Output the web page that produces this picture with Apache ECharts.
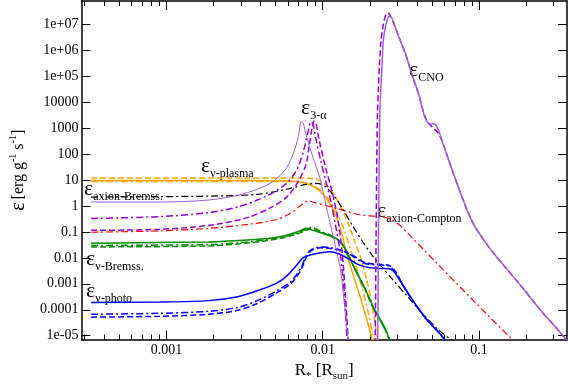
<!DOCTYPE html>
<html>
<head>
<meta charset="utf-8">
<title>energy generation rates</title>
<script src="https://cdn.jsdelivr.net/npm/echarts@6/dist/echarts.min.js"></script>
<style>
  html, body { margin: 0; padding: 0; background: #fff; }
  #main { width: 568px; height: 387px; }
</style>
</head>
<body>
<div id="main"></div>
<script>
// [R_* in R_sun, epsilon in erg/g/s]
var plasmaSolid = [[3.3e-4, 9.5], [3.81e-3, 9.5], [5.87e-3, 9.2], [6.78e-3, 8.8], [7.83e-3, 7.4], [8.66e-3, 5.7], [9.72e-3, 3.4], [0.01075, 1.7], [0.01205, 0.46], [0.01315, 0.097], [0.01413, 0.017], [0.0154, 0.003], [0.01703, 4.5e-4], [0.01857, 8e-5], [0.02024, 1.2e-5], [0.02144, 2.5e-6]];
var plasmaDashed = [[3.3e-4, 12], [6.78e-3, 12], [8.41e-3, 11.6], [9.31e-3, 10.4], [0.01075, 5.7], [0.01241, 1.7], [0.01433, 0.27], [0.01607, 0.041], [0.01754, 0.0094], [0.0191, 1.4e-3], [0.02054, 1.9e-4], [0.02175, 2.2e-5], [0.02304, 2.5e-6]];
var plasmaDashDot = [[3.3e-4, 8.8], [6.31e-3, 8.8], [7.61e-3, 8.0], [8.66e-3, 6.2], [0.01, 3.4], [0.01155, 1.1], [0.01334, 0.19], [0.01496, 0.024], [0.01655, 0.0036], [0.01804, 5.4e-4], [0.01968, 6.7e-5], [0.02113, 7e-6], [0.02208, 2.5e-6]];

var axionBremss = [[3.3e-4, 2.2], [1.86e-3, 2.4], [3.81e-3, 2.8], [5.87e-3, 4.4], [7.83e-3, 6.8], [9.04e-3, 7.4], [0.01015, 6.2], [0.01172, 2.6], [0.01352, 0.71], [0.01563, 0.16], [0.01804, 0.041], [0.02084, 0.012], [0.02371, 0.0047], [0.02738, 0.0017], [0.03447, 3.5e-4], [0.044, 6.7e-5], [0.0562, 1.5e-5], [0.075, 4.2e-6]];
var axionCompton = [[3.3e-4, 0.097], [9.04e-4, 0.11], [1.86e-3, 0.137], [3.3e-3, 0.194], [5.08e-3, 0.3], [6.31e-3, 0.55], [7.29e-3, 1.1], [8.06e-3, 1.55], [9.04e-3, 1.3], [0.01075, 1.0], [0.01393, 0.65], [0.01727, 0.46], [0.02208, 0.39], [0.02661, 0.33], [0.03073, 0.194], [0.03447, 0.097], [0.0562, 0.0047], [0.0904, 2.5e-4], [0.1455, 1.4e-5], [0.1727, 5e-6]];

var alphaSolid = [[3.3e-4, 1.42], [9.04e-4, 1.42], [1.86e-3, 1.69], [2.86e-3, 2.6], [3.81e-3, 4.4], [4.6e-3, 7.4], [5.23e-3, 13.5], [5.87e-3, 29.5], [6.49e-3, 108], [6.98e-3, 471], [7.29e-3, 1800], [7.5e-3, 1500], [7.83e-3, 560], [8.41e-3, 129], [9.04e-3, 35], [9.58e-3, 12.4], [0.01015, 2.6], [0.0109, 0.39], [0.01205, 0.029], [0.01296, 0.0039], [0.01372, 1.9e-4], [0.01455, 5.9e-6]];
var alphaDashDot = [[3.3e-4, 0.33], [9.04e-4, 0.39], [1.86e-3, 0.55], [2.86e-3, 0.92], [3.81e-3, 1.69], [4.73e-3, 3.1], [5.87e-3, 7.4], [6.59e-3, 17.5], [7.08e-3, 42], [7.61e-3, 167], [8.06e-3, 727], [8.41e-3, 1730], [8.66e-3, 1455], [9.04e-3, 396], [9.72e-3, 54], [0.01044, 9.5], [0.01122, 1.69], [0.01205, 0.194], [0.01296, 0.0144], [0.01372, 4.5e-4], [0.01433, 5.9e-6]];
var alphaDashed = [[3.3e-4, 0.115], [9.04e-4, 0.126], [1.86e-3, 0.178], [3.3e-3, 0.356], [4.73e-3, 0.92], [5.87e-3, 2.19], [6.98e-3, 8.8], [7.83e-3, 42], [8.18e-3, 198], [8.53e-3, 942], [8.79e-3, 1880], [9.04e-3, 1585], [9.44e-3, 396], [0.01044, 29.5], [0.01155, 3.1], [0.01259, 0.23], [0.01334, 0.0144], [0.01393, 4.5e-4], [0.01455, 5.9e-6]];

var cnoSolid = [[0.02239, 2.1e-6], [0.02255, 8e-5], [0.02271, 0.034], [0.02287, 6.2], [0.02304, 257], [0.0232, 4100], [0.02355, 3.6e4], [0.02395, 2.6e5], [0.0244, 2.3e6], [0.02535, 1e7], [0.02624, 1.83e7], [0.0268, 2.09e7], [0.0278, 1.68e7], [0.03073, 3.2e6], [0.034, 6.8e5], [0.0371, 1.21e5], [0.041, 2.1e4], [0.0447, 2900], [0.0467, 1730], [0.0487, 1455], [0.0516, 1455], [0.0546, 940], [0.0587, 257], [0.0649, 45], [0.075, 4.0], [0.0904, 0.25], [0.1155, 0.026], [0.1455, 0.0047], [0.1857, 8.3e-4], [0.2477, 9.5e-5], [0.3073, 2.2e-5], [0.371, 5.9e-6]];
var cnoDashed = [[0.02159, 2.1e-6], [0.02175, 8e-5], [0.02192, 0.034], [0.02208, 6.2], [0.02224, 257], [0.02239, 4100], [0.02271, 3.6e4], [0.02304, 2.6e5], [0.0236, 2.3e6], [0.0244, 1e7], [0.02535, 2.4e7], [0.02585, 2.7e7], [0.02661, 2.5e7], [0.0278, 1.54e7], [0.03073, 3.2e6], [0.034, 6.8e5], [0.0371, 1.21e5], [0.041, 2.1e4], [0.0447, 3200], [0.0473, 1600], [0.0508, 1030], [0.0546, 670], [0.0587, 257], [0.0649, 45], [0.075, 4.0], [0.0904, 0.25], [0.1155, 0.026], [0.1455, 0.0047], [0.1857, 8.3e-4], [0.2477, 9.5e-5], [0.3073, 2.2e-5], [0.371, 5.9e-6]];

var bremssSolid = [[3.3e-4, 0.037], [1.86e-3, 0.041], [3.3e-3, 0.0485], [4.73e-3, 0.058], [5.87e-3, 0.075], [7.08e-3, 0.106], [7.83e-3, 0.137], [8.66e-3, 0.115], [0.01044, 0.0815], [0.01205, 0.058], [0.01334, 0.034], [0.01455, 0.012], [0.01607, 0.0039], [0.01857, 6.9e-4], [0.02144, 1.03e-4], [0.02477, 2.2e-5], [0.027, 5.9e-6]];
var bremssDashed = [[3.3e-4, 0.0264], [1.86e-3, 0.0288], [3.3e-3, 0.0374], [5.08e-3, 0.0528], [6.78e-3, 0.0815], [7.83e-3, 0.115], [8.53e-3, 0.137], [9.72e-3, 0.097], [0.01122, 0.0686], [0.01259, 0.0485], [0.01393, 0.0222], [0.01496, 0.0094], [0.01607, 0.0036], [0.01857, 6.4e-4], [0.02144, 9.5e-5], [0.02477, 2.0e-5], [0.027, 5.9e-6]];
var bremssDashDot = [[3.3e-4, 0.0301], [1.86e-3, 0.0328], [3.3e-3, 0.0407], [5.08e-3, 0.0577], [6.78e-3, 0.089], [7.83e-3, 0.126], [8.41e-3, 0.15], [9.72e-3, 0.106], [0.01122, 0.0747], [0.01259, 0.0485], [0.01393, 0.0222], [0.01496, 0.0094], [0.01607, 0.0036], [0.01857, 6.4e-4], [0.02144, 9.5e-5], [0.02477, 2.0e-5], [0.027, 5.9e-6]];

var photoSolid = [[3.3e-4, 1.9e-4], [9.04e-4, 1.98e-4], [1.86e-3, 2.25e-4], [2.86e-3, 3.2e-4], [3.81e-3, 5.4e-4], [5.08e-3, 1.07e-3], [5.87e-3, 1.97e-3], [6.78e-3, 5.1e-3], [7.5e-3, 0.0102], [8.41e-3, 0.0132], [9.72e-3, 0.0157], [0.01122, 0.0171], [0.01259, 0.0144], [0.01455, 0.0094], [0.01679, 0.0056], [0.01939, 0.0043], [0.02371, 0.0039], [0.02738, 0.0036], [0.03162, 0.00117], [0.0381, 2.07e-4], [0.046, 4.35e-5], [0.0562, 1.19e-5], [0.0631, 5e-6]];
var photoDashDot = [[3.3e-4, 6.7e-5], [9.04e-4, 7.3e-5], [1.86e-3, 8.7e-5], [2.86e-3, 1.23e-4], [3.81e-3, 2.25e-4], [5.08e-3, 5.4e-4], [6.31e-3, 1.28e-3], [7.29e-3, 4.3e-3], [7.83e-3, 0.0121], [8.41e-3, 0.0204], [9.72e-3, 0.0264], [0.01155, 0.0243], [0.01393, 0.0171], [0.01607, 0.0102], [0.01857, 0.0061], [0.02304, 0.0053], [0.02661, 0.0048], [0.02944, 0.00255], [0.033, 7.6e-4], [0.0381, 2.07e-4], [0.046, 4.35e-5], [0.0562, 1.19e-5], [0.0631, 5e-6]];
var photoDashed = [[3.3e-4, 5.2e-5], [9.04e-4, 5.6e-5], [1.86e-3, 6.7e-5], [2.86e-3, 9.5e-5], [3.81e-3, 1.74e-4], [5.08e-3, 4.5e-4], [6.31e-3, 1.07e-3], [7.29e-3, 3.6e-3], [7.83e-3, 0.0102], [8.41e-3, 0.0187], [9.72e-3, 0.0243], [0.01155, 0.0222], [0.01393, 0.0171], [0.01607, 0.0111], [0.01857, 0.0066], [0.02304, 0.0056], [0.02661, 0.0051], [0.02944, 0.0028], [0.033, 7.6e-4], [0.0381, 2.07e-4], [0.046, 4.35e-5], [0.0562, 1.19e-5], [0.0631, 5e-6]];

// axes
var xRange = [2.858e-4, 0.3652];
var yRange = [7.08e-6, 7.94e7];
var xMajorTicks = [0.001, 0.01, 0.1];
var xTickLabels = ['0.001', '0.01', '0.1'];
var xMinorTicks = [3e-4, 4e-4, 5e-4, 6e-4, 7e-4, 8e-4, 9e-4, 0.002, 0.003, 0.004, 0.005, 0.006, 0.007, 0.008, 0.009,
                   0.02, 0.03, 0.04, 0.05, 0.06, 0.07, 0.08, 0.09, 0.2, 0.3];
var yTicks = [1e-5, 1e-4, 1e-3, 0.01, 0.1, 1, 10, 100, 1000, 1e4, 1e5, 1e6, 1e7];
var yTickLabels = ['1e-05', '0.0001', '0.001', '0.01', '0.1', '1', '10', '100', '1000', '10000', '1e+05', '1e+06', '1e+07'];

var FONT = "'Liberation Serif', 'DejaVu Serif', serif";
var ORANGE = '#ffa500', PURPLE = '#9400d3', PURPLE_LIGHT = '#9d5fdc', GREEN = '#008f00', BLUE = '#0000ff';
var DASH = [6, 3], DASHDOT = [7, 3, 2, 3];

var lg = Math.log10;
function toLog(arr) { return arr.map(function (p) { return [lg(p[0]), lg(p[1])]; }); }
function labelFor(ticks, labels) {
  return function (v) {
    for (var i = 0; i < ticks.length; i++) {
      if (Math.abs(lg(ticks[i]) - v) < 1e-6) return labels[i];
    }
    return '';
  };
}

function line(data, color, type, width) {
  return {
    type: 'line',
    data: toLog(data),
    showSymbol: false,
    symbol: 'none',
    smooth: 0.3,
    silent: true,
    clip: true,
    lineStyle: { color: color, type: type, width: width }
  };
}

function xAxis(pos, ticks, len, showLine, showLabel) {
  return {
    type: 'value', position: pos,
    min: lg(xRange[0]), max: lg(xRange[1]),
    axisLine: { show: showLine, onZero: false, lineStyle: { color: '#000', width: 1.5 } },
    axisTick: { show: true, inside: true, length: len, customValues: ticks.map(lg), lineStyle: { color: '#000', width: 1 } },
    axisLabel: {
      show: showLabel, customValues: xMajorTicks.map(lg), formatter: labelFor(xMajorTicks, xTickLabels),
      margin: 4, color: '#000', fontFamily: FONT, fontSize: 14
    },
    splitLine: { show: false }
  };
}

function yAxis(pos, showLabel) {
  return {
    type: 'value', position: pos,
    min: lg(yRange[0]), max: lg(yRange[1]),
    axisLine: { show: true, onZero: false, lineStyle: { color: '#000', width: 1.5 } },
    axisTick: { show: true, inside: true, length: 9, customValues: yTicks.map(lg), lineStyle: { color: '#000', width: 1 } },
    axisLabel: {
      show: showLabel, customValues: yTicks.map(lg), formatter: labelFor(yTicks, yTickLabels),
      margin: 3, color: '#000', fontFamily: FONT, fontSize: 14
    },
    splitLine: { show: false }
  };
}

var xAxes = [
  xAxis('bottom', xMajorTicks, 9, true, true),
  xAxis('bottom', xMinorTicks, 5, false, false),
  xAxis('top', xMajorTicks, 9, true, false),
  xAxis('top', xMinorTicks, 5, false, false)
];
xAxes[0].name = '{m|R}{s|*}{m| [R}{s|sun}{m|]}';
xAxes[0].nameLocation = 'middle';
xAxes[0].nameGap = 16;
xAxes[0].nameTextStyle = {
  fontFamily: FONT, color: '#000',
  rich: {
    m: { fontFamily: FONT, fontSize: 17, lineHeight: 22, color: '#000' },
    s: { fontFamily: FONT, fontSize: 11, lineHeight: 11, verticalAlign: 'bottom', color: '#000' }
  }
};

var yAxes = [yAxis('left', true), yAxis('right', false)];
yAxes[0].name = '{e|ε} {m|[erg g}{p|-1}{m| s}{p|-1}{m|]}';
yAxes[0].nameLocation = 'middle';
yAxes[0].nameRotate = 90;
yAxes[0].nameGap = 44;
yAxes[0].nameTextStyle = {
  fontFamily: FONT, color: '#000',
  rich: {
    e: { fontFamily: FONT, fontSize: 20, lineHeight: 22, color: '#000' },
    m: { fontFamily: FONT, fontSize: 16, lineHeight: 22, color: '#000' },
    p: { fontFamily: FONT, fontSize: 10, lineHeight: 10, verticalAlign: 'top', color: '#000' }
  }
};

function note(sub, x, y) {
  return {
    type: 'text', x: x, y: y, silent: true,
    style: {
      text: '{e|ε}{s|' + sub + '}',
      rich: {
        e: { fontFamily: FONT, fontSize: 22, lineHeight: 28, fill: '#000' },
        s: { fontFamily: FONT, fontSize: 12, lineHeight: 12, verticalAlign: 'bottom', fill: '#000' }
      },
      verticalAlign: 'top', align: 'left'
    }
  };
}

var myChart = echarts.init(document.getElementById('main'), null, { renderer: 'canvas' });
myChart.setOption({
  animation: false,
  backgroundColor: '#fff',
  grid: { left: 70, right: 1, top: 1, bottom: 39 },
  xAxis: xAxes,
  yAxis: yAxes,
  series: [
    line(plasmaSolid, ORANGE, 'solid', 1.5),
    line(plasmaDashed, ORANGE, DASH, 1.5),
    line(plasmaDashDot, ORANGE, DASHDOT, 1.5),
    line(axionCompton, '#ff0000', DASHDOT, 1.2),
    line(axionBremss, '#000', DASHDOT, 1.2),
    line(bremssSolid, GREEN, 'solid', 1.5),
    line(bremssDashed, GREEN, DASH, 1.5),
    line(bremssDashDot, GREEN, DASHDOT, 1.5),
    line(photoSolid, BLUE, 'solid', 1.5),
    line(photoDashed, BLUE, DASH, 1.5),
    line(photoDashDot, BLUE, DASHDOT, 1.5),
    line(alphaDashed, PURPLE, DASH, 1.5),
    line(alphaDashDot, PURPLE, DASHDOT, 1.5),
    line(alphaSolid, PURPLE_LIGHT, 'solid', 1),
    line(cnoDashed, PURPLE, DASH, 1.5),
    line(cnoSolid, PURPLE_LIGHT, 'solid', 1.5)
  ],
  graphic: [
    note('ν-plasma', 201, 152),
    note('axion-Bremss.', 84, 175),
    note('3-α', 301, 94),
    note('CNO', 409, 56),
    note('axion-Compton', 377, 197),
    note('ν-Bremss.', 86, 245),
    note('ν-photo', 86, 277)
  ]
});
</script>
</body>
</html>
